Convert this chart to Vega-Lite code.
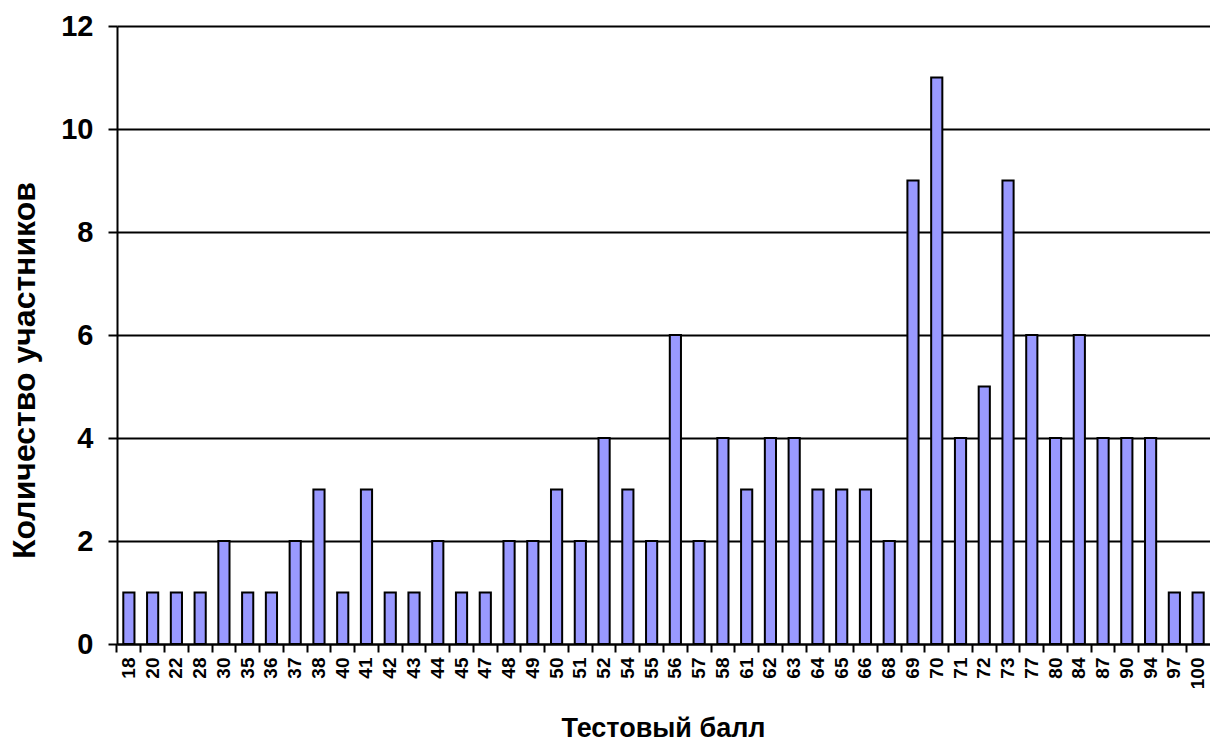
{
  "$schema": "https://vega.github.io/schema/vega-lite/v6.json",
  "autosize": {"type": "none"},
  "width": 1093,
  "height": 618,
  "padding": {"left": 117, "top": 26, "right": 0, "bottom": 108},
  "background": "white",
  "config": {
    "view": {"stroke": null},
    "font": "Liberation Sans"
  },
  "data": {
    "values": [
      {"score": "18", "count": 1}, {"score": "20", "count": 1}, {"score": "22", "count": 1},
      {"score": "28", "count": 1}, {"score": "30", "count": 2}, {"score": "35", "count": 1},
      {"score": "36", "count": 1}, {"score": "37", "count": 2}, {"score": "38", "count": 3},
      {"score": "40", "count": 1}, {"score": "41", "count": 3}, {"score": "42", "count": 1},
      {"score": "43", "count": 1}, {"score": "44", "count": 2}, {"score": "45", "count": 1},
      {"score": "47", "count": 1}, {"score": "48", "count": 2}, {"score": "49", "count": 2},
      {"score": "50", "count": 3}, {"score": "51", "count": 2}, {"score": "52", "count": 4},
      {"score": "54", "count": 3}, {"score": "55", "count": 2}, {"score": "56", "count": 6},
      {"score": "57", "count": 2}, {"score": "58", "count": 4}, {"score": "61", "count": 3},
      {"score": "62", "count": 4}, {"score": "63", "count": 4}, {"score": "64", "count": 3},
      {"score": "65", "count": 3}, {"score": "66", "count": 3}, {"score": "68", "count": 2},
      {"score": "69", "count": 9}, {"score": "70", "count": 11}, {"score": "71", "count": 4},
      {"score": "72", "count": 5}, {"score": "73", "count": 9}, {"score": "77", "count": 6},
      {"score": "80", "count": 4}, {"score": "84", "count": 6}, {"score": "87", "count": 4},
      {"score": "90", "count": 4}, {"score": "94", "count": 4}, {"score": "97", "count": 1},
      {"score": "100", "count": 1}
    ]
  },
  "encoding": {
    "y": {
      "field": "count", "type": "quantitative",
      "scale": {"domain": [0, 12]},
      "axis": {
        "values": [0, 2, 4, 6, 8, 10, 12],
        "grid": true, "gridColor": "black", "gridWidth": 2, "gridOpacity": 1,
        "domain": true, "domainColor": "black", "domainWidth": 2,
        "ticks": true, "tickSize": 9, "tickColor": "black", "tickWidth": 2,
        "labelPadding": 15, "labelFont": "Liberation Sans", "labelFontWeight": "bold",
        "labelFontSize": 29, "labelColor": "black",
        "title": "Количество участников", "titleFont": "Liberation Sans",
        "titleFontWeight": "bold", "titleFontSize": 32, "titleColor": "black",
        "titleAngle": -90, "titleX": -93, "titleY": 344,
        "titleAlign": "center", "titleBaseline": "middle"
      }
    }
  },
  "resolve": {"axis": {"x": "independent"}},
  "layer": [
    {
      "mark": {"type": "bar", "opacity": 0},
      "encoding": {
        "x": {
          "field": "score", "type": "ordinal", "sort": null,
          "scale": {"paddingInner": 0.53, "paddingOuter": 0.265},
          "axis": {
            "orient": "bottom",
            "bandPosition": -0.564, "labels": false, "ticks": true, "tickSize": 8,
            "tickColor": "black", "tickWidth": 2, "domain": false, "title": null, "grid": false
          }
        }
      }
    },
    {
      "mark": {"type": "bar", "fill": "#9999FF", "stroke": "black", "strokeWidth": 2},
      "encoding": {
        "x": {
          "field": "score", "type": "ordinal", "sort": null,
          "axis": {
            "orient": "bottom",
            "ticks": false, "labelAngle": -90, "labelAlign": "right", "labelBaseline": "middle",
            "labelPadding": 13, "labelFont": "Liberation Sans", "labelFontWeight": "bold",
            "labelFontSize": 19, "labelColor": "black",
            "domain": true, "domainColor": "black", "domainWidth": 2,
            "title": "Тестовый балл", "titleFont": "Liberation Sans", "titleFontWeight": "bold",
            "titleFontSize": 27, "titleColor": "black",
            "titleX": 546, "titleY": 84, "titleAlign": "center", "titleBaseline": "middle"
          }
        }
      }
    }
  ]
}
